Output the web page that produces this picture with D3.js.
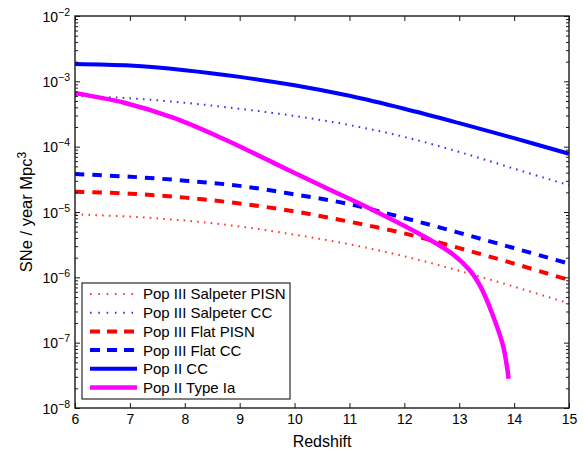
<!DOCTYPE html>
<html><head><meta charset="utf-8">
<script src="https://cdn.jsdelivr.net/npm/d3@7"></script>
<style>
html,body{margin:0;padding:0;background:#fff;}
svg{display:block;font-family:"Liberation Sans",Arial,Helvetica,sans-serif;}
</style></head>
<body>
<svg id="chart" width="584" height="450"></svg>
<script>
// ---- data ----
const redshift = [6, 7, 8, 9, 10, 11, 12, 13, 14, 15];
const salpeterPISN = [9.2e-6, 8.5e-6, 7.4e-6, 6.0e-6, 4.5e-6, 3.2e-6, 2.1e-6, 1.26e-6, 7.2e-7, 4.0e-7];
const salpeterCC   = [6.0e-4, 5.5e-4, 4.7e-4, 3.8e-4, 2.95e-4, 2.14e-4, 1.41e-4, 8.3e-5, 4.6e-5, 2.57e-5];
const flatPISN     = [2.04e-5, 1.91e-5, 1.66e-5, 1.35e-5, 1.02e-5, 7.1e-6, 4.7e-6, 2.8e-6, 1.62e-6, 9.1e-7];
const flatCC       = [3.8e-5, 3.47e-5, 3.02e-5, 2.51e-5, 1.86e-5, 1.32e-5, 8.1e-6, 4.8e-6, 2.8e-6, 1.62e-6];
const popIICC      = [1.84e-3, 1.74e-3, 1.48e-3, 1.17e-3, 8.7e-4, 6.0e-4, 3.8e-4, 2.29e-4, 1.35e-4, 7.8e-5];
const typeIaZ      = [6, 6.9, 7.8, 8.7, 9.6, 10.5, 11.4, 12.3, 12.9, 13.2, 13.4, 13.6, 13.8, 13.9];
const typeIa       = [6.6e-4, 4.7e-4, 2.75e-4, 1.32e-4, 5.75e-5, 2.5e-5, 1.1e-5, 4.5e-6, 2.2e-6, 1.26e-6, 6.9e-7, 2.8e-7, 8.9e-8, 2.8e-8];
const xTicks = [6, 7, 8, 9, 10, 11, 12, 13, 14, 15];
const yExponents = [-8, -7, -6, -5, -4, -3, -2];
const seriesNames = ["Pop III Salpeter PISN", "Pop III Salpeter CC", "Pop III Flat PISN", "Pop III Flat CC", "Pop II CC", "Pop II Type Ia"];
const seriesColors = ["#ff0000", "#0000ff", "#ff0000", "#0000ff", "#0000ff", "#ff00ff"];
const xLabel = "Redshift";
const yLabel = "SNe / year Mpc";

// ---- layout ----
const L = 75, R = 569, T = 16, B = 408;
const svg = d3.select("#chart");
const x = d3.scaleLinear().domain([6, 15]).range([L, R]);
const y = d3.scaleLog().domain([1e-8, 1e-2]).range([B, T]);

const dotDash = "1.6,5.2", dashDash = "9.5,8";
const series = [
  {name: seriesNames[0], xs: redshift, ys: salpeterPISN, color: seriesColors[0], w: 2, dash: dotDash, op: 0.8},
  {name: seriesNames[1], xs: redshift, ys: salpeterCC, color: seriesColors[1], w: 2, dash: dotDash, op: 0.8},
  {name: seriesNames[2], xs: redshift, ys: flatPISN, color: seriesColors[2], w: 4, dash: dashDash, op: 1},
  {name: seriesNames[3], xs: redshift, ys: flatCC, color: seriesColors[3], w: 4, dash: dashDash, op: 1},
  {name: seriesNames[4], xs: redshift, ys: popIICC, color: seriesColors[4], w: 4, dash: null, op: 1},
  {name: seriesNames[5], xs: typeIaZ, ys: typeIa, color: seriesColors[5], w: 4.5, dash: null, op: 1}
];

// ---- lines ----
const line = d3.line().x(d => x(d[0])).y(d => y(d[1])).curve(d3.curveCatmullRom.alpha(0.5));
const gLines = svg.append("g");
series.forEach(s => {
  gLines.append("path")
    .datum(s.xs.map((v, i) => [v, s.ys[i]]))
    .attr("d", line)
    .attr("fill", "none")
    .attr("stroke", s.color)
    .attr("stroke-opacity", s.op)
    .attr("stroke-width", s.w)
    .attr("stroke-dasharray", s.dash)
    .attr("stroke-linecap", "butt")
    .attr("stroke-linejoin", "round");
});

// ---- axes ----
const axisColor = "#1a1a1a";
const majorY = yExponents.map(e => Math.pow(10, e));
const minorY = [];
yExponents.slice(0, -1).forEach(e => { for (let k = 2; k <= 9; k++) minorY.push(k * Math.pow(10, e)); });

function styleAxis(g) {
  g.select(".domain").remove();
  g.selectAll("line").attr("stroke", axisColor).attr("stroke-width", 1);
}

// bottom
const gx = svg.append("g").attr("transform", `translate(0,${B})`)
  .call(d3.axisBottom(x).tickValues(xTicks).tickSizeInner(-5).tickSizeOuter(0).tickPadding(6).tickFormat(d3.format("d")));
styleAxis(gx);
gx.selectAll("text").attr("font-size", 14).attr("fill", "#000").attr("font-family", "Liberation Sans, Arial, sans-serif");
// top
const gxt = svg.append("g").attr("transform", `translate(0,${T})`)
  .call(d3.axisTop(x).tickValues(xTicks).tickSizeInner(-5).tickSizeOuter(0).tickFormat(() => ""));
styleAxis(gxt);

// left major
const gy = svg.append("g").attr("transform", `translate(${L},0)`)
  .call(d3.axisLeft(y).tickValues(majorY).tickSizeInner(-5).tickSizeOuter(0).tickPadding(5).tickFormat(() => ""));
styleAxis(gy);
gy.selectAll(".tick text").each(function(d) {
  const t = d3.select(this).text(null)
    .attr("font-size", 14).attr("fill", "#000").attr("dy", "0.36em")
    .attr("font-family", "Liberation Sans, Arial, sans-serif");
  t.append("tspan").text("10");
  t.append("tspan").attr("dy", "-0.55em").attr("font-size", 10.5).text("\u2212" + Math.abs(Math.round(Math.log10(d))));
});
// left minor
const gym = svg.append("g").attr("transform", `translate(${L},0)`)
  .call(d3.axisLeft(y).tickValues(minorY).tickSizeInner(-3).tickSizeOuter(0).tickFormat(() => ""));
styleAxis(gym);
// right major/minor
const gyr = svg.append("g").attr("transform", `translate(${R},0)`)
  .call(d3.axisRight(y).tickValues(majorY).tickSizeInner(-5).tickSizeOuter(0).tickFormat(() => ""));
styleAxis(gyr);
const gyrm = svg.append("g").attr("transform", `translate(${R},0)`)
  .call(d3.axisRight(y).tickValues(minorY).tickSizeInner(-3).tickSizeOuter(0).tickFormat(() => ""));
styleAxis(gyrm);

// box
svg.append("rect").attr("x", L).attr("y", T).attr("width", R - L).attr("height", B - T)
  .attr("fill", "none").attr("stroke", axisColor).attr("stroke-width", 1.4);

// axis labels
svg.append("text").attr("x", (L + R) / 2).attr("y", 447).attr("text-anchor", "middle")
  .attr("font-size", 16).attr("fill", "#000").text(xLabel);
const yl = svg.append("text").attr("transform", `translate(32,${(T + B) / 2}) rotate(-90)`)
  .attr("text-anchor", "middle").attr("font-size", 16.5).attr("fill", "#000");
yl.append("tspan").text(yLabel);
yl.append("tspan").attr("dy", "-0.5em").attr("font-size", 12).text("3");

// ---- legend ----
const lg = svg.append("g");
const lgX = 82, lgY = 283, lgW = 208, lgH = 116;
lg.append("rect").attr("x", lgX).attr("y", lgY).attr("width", lgW).attr("height", lgH)
  .attr("fill", "#fff").attr("stroke", "#000").attr("stroke-width", 1);
series.forEach((s, i) => {
  const cy = 294 + i * 18.7;
  lg.append("line").attr("x1", 90).attr("x2", 137).attr("y1", cy).attr("y2", cy)
    .attr("stroke", s.color).attr("stroke-opacity", s.op).attr("stroke-width", s.w)
    .attr("stroke-dasharray", s.dash ? (s.w < 3 ? "1.6,6.7" : "10,7") : null);
  lg.append("text").attr("x", 143).attr("y", cy).attr("dy", "0.36em")
    .attr("font-size", 15).attr("fill", "#000").text(s.name);
});
</script>
</body></html>
